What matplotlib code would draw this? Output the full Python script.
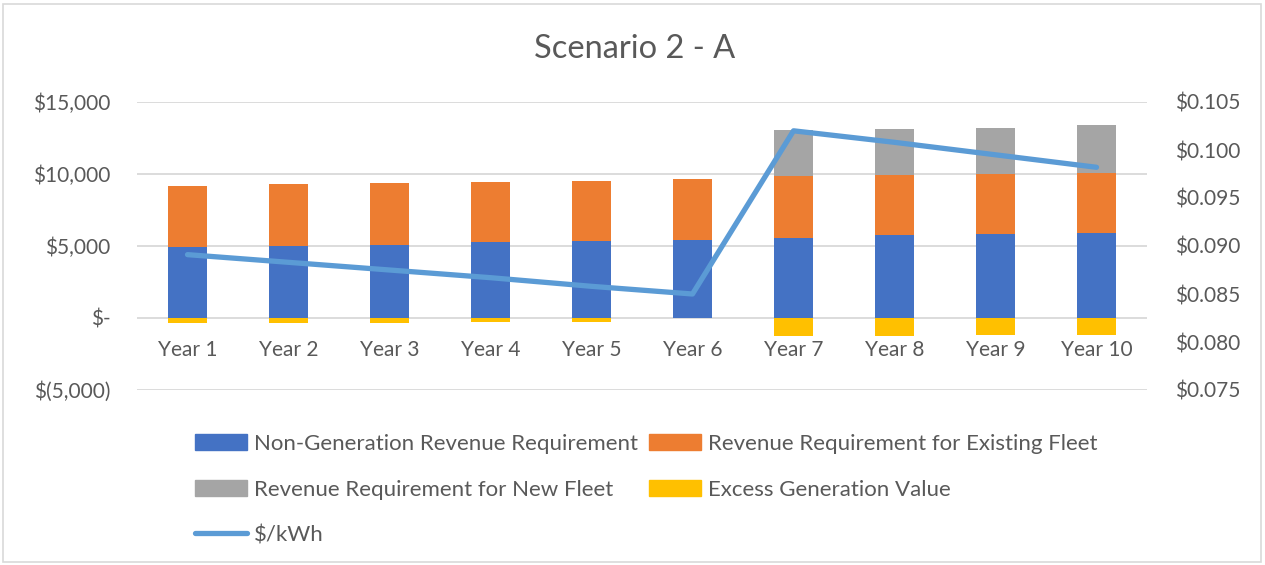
import matplotlib
matplotlib.use("Agg")
import matplotlib.pyplot as plt
import numpy as np
from matplotlib.patches import Patch, Rectangle
from matplotlib.lines import Line2D
from matplotlib.ticker import FuncFormatter, MultipleLocator

plt.rcParams["font.family"] = ["Lato", "DejaVu Sans"]

years = ["Year 1", "Year 2", "Year 3", "Year 4", "Year 5",
         "Year 6", "Year 7", "Year 8", "Year 9", "Year 10"]
non_generation = [4900, 5000, 5070, 5250, 5350, 5440, 5570, 5750, 5850, 5920]
existing_fleet = [4270, 4280, 4280, 4190, 4190, 4190, 4260, 4190, 4180, 4180]
new_fleet = [0, 0, 0, 0, 0, 0, 3210, 3200, 3180, 3320]
excess_generation = [-330, -330, -330, -250, -250, 0, -1280, -1280, -1190, -1190]
price_kwh = [0.0891, 0.0883, 0.0875, 0.0867, 0.0858, 0.0850,
             0.1020, 0.1008, 0.0995, 0.0982]

BLUE = "#4472C4"
ORANGE = "#ED7D31"
GREY = "#A5A5A5"
YELLOW = "#FFC000"
LINE = "#5B9BD5"
TEXT = "#595959"
GRID = "#D9D9D9"

W, H = 1265, 565
fig = plt.figure(figsize=(W / 100, H / 100), dpi=100)

# chart frame
fig.patches.append(Rectangle((3 / W, 3 / H), 1258 / W, 1 - 7 / H,
                             transform=fig.transFigure, fill=False,
                             edgecolor=GRID, linewidth=1.2))

ax = fig.add_axes([137 / W, 1 - 390 / H, 1010 / W, 288 / H])
x = np.arange(len(years))
width = 0.38

non_gen = np.array(non_generation)
existing = np.array(existing_fleet)
ax.bar(x, non_gen, width, color=BLUE, zorder=3)
ax.bar(x, existing, width, bottom=non_gen, color=ORANGE, zorder=3)
ax.bar(x, new_fleet, width, bottom=non_gen + existing, color=GREY, zorder=3)
ax.bar(x, excess_generation, width, color=YELLOW, zorder=3)

ax.set_xlim(-0.5, len(years) - 0.5)
ax.set_ylim(-5000, 15000)
ax.yaxis.set_major_locator(MultipleLocator(5000))


def money(v, pos):
    if abs(v) < 1e-9:
        return "$-"
    if v < 0:
        return "$({:,.0f})".format(-v)
    return "${:,.0f}".format(v)


ax.yaxis.set_major_formatter(FuncFormatter(money))
ax.grid(axis="y", color=GRID, linewidth=1.3, zorder=0)
ax.set_axisbelow(True)
for s in ax.spines.values():
    s.set_visible(False)
ax.spines["bottom"].set_position(("data", 0))
ax.set_xticks(x)
ax.set_xticklabels(years)
ax.tick_params(axis="x", length=0, pad=16, labelsize=15, labelcolor=TEXT)
ax.tick_params(axis="y", length=0, pad=19, labelsize=15, labelcolor=TEXT)

ax2 = ax.twinx()
ax2.plot(x, price_kwh, color=LINE, linewidth=3.8, solid_capstyle="round",
         zorder=4)
ax2.set_ylim(0.075, 0.105)
ax2.yaxis.set_major_locator(MultipleLocator(0.005))
ax2.yaxis.set_major_formatter(FuncFormatter(lambda v, p: "${:.3f}".format(v)))
for s in ax2.spines.values():
    s.set_visible(False)
ax2.tick_params(axis="y", length=0, pad=20, labelsize=15, labelcolor=TEXT)

fig.text(635 / W, 1 - 49 / H, "Scenario 2 - A", ha="center", va="center",
         fontsize=23.5, color=TEXT)

handles = [
    Patch(color=BLUE, label="Non-Generation Revenue Requirement"),
    Patch(color=GREY, label="Revenue Requirement for New Fleet"),
    Line2D([], [], color=LINE, linewidth=3.8, solid_capstyle="round",
           label="$/kWh"),
    Patch(color=ORANGE, label="Revenue Requirement for Existing Fleet"),
    Patch(color=YELLOW, label="Excess Generation Value"),
]
leg = fig.legend(handles=handles, ncol=2, loc="upper left",
                 bbox_to_anchor=(175 / W, 1 - 414 / H), frameon=False,
                 fontsize=16, handlelength=2.35, handletextpad=0.3,
                 columnspacing=0.5, labelspacing=1.15)
for t in leg.get_texts():
    t.set_color(TEXT)

fig.savefig("out.png", dpi=100)
